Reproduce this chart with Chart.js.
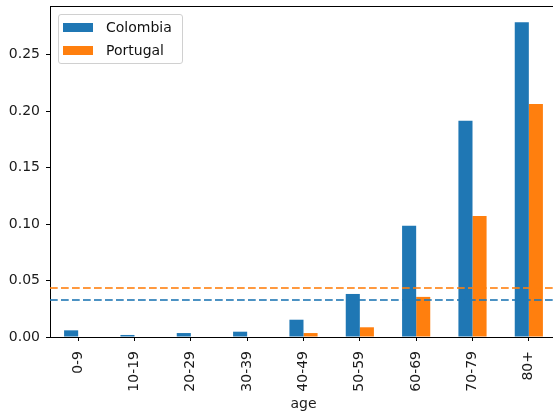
<!DOCTYPE html>
<html>
<head>
<meta charset="utf-8">
<script src="https://cdn.jsdelivr.net/npm/chart.js@4/dist/chart.umd.min.js"></script>
<style>
  html, body { margin: 0; padding: 0; background: #fff; overflow: hidden; }
  #wrap { position: relative; width: 553px; height: 414px; overflow: hidden; }
  #c { position: absolute; left: 0; top: 0; }
  .leg-box { position: absolute; left: 58px; top: 14px; width: 125px; height: 50px; box-sizing: border-box;
             border: 1px solid #d0d0d0; border-radius: 3px; background: rgba(255,255,255,0.8); }
  .leg-item { position: absolute; left: 63px; height: 20px; font: 14px "DejaVu Sans"; color: #111; }
  .leg-item .sw { position: absolute; left: 0; top: 6px; width: 30px; height: 9px; }
  .leg-item .lb { position: absolute; left: 43px; top: 1px; white-space: nowrap; line-height: 18px; }
</style>
</head>
<body>
<div id="wrap">
  <canvas id="c" width="560" height="414"></canvas>
  <div class="leg-box"></div>
  <div id="legend"></div>
</div>
<script>
// ---- data ----
const ages = ["0-9", "10-19", "20-29", "30-39", "40-49", "50-59", "60-69", "70-79", "80+"];
const colombia = [0.0059, 0.0018, 0.0035, 0.0047, 0.0153, 0.0381, 0.0984, 0.1915, 0.2786];
const portugal = [0, 0, 0, 0, 0.0035, 0.0086, 0.0355, 0.1070, 0.2063];
const meanColombia = 0.0328;
const meanPortugal = 0.0434;
const yTicks = [0, 0.05, 0.10, 0.15, 0.20, 0.25];
const yMax = 0.293;

const BLUE = "#1f77b4", ORANGE = "#ff7f0e";
const series = [
  { label: "Colombia", data: colombia, color: BLUE, mean: meanColombia },
  { label: "Portugal", data: portugal, color: ORANGE, mean: meanPortugal },
];

Chart.defaults.font.family = '"DejaVu Sans", sans-serif';
Chart.defaults.font.size = 14;
Chart.defaults.color = "#1a1a1a";

// legend (html overlay, matplotlib style upper-left)
document.getElementById("legend").innerHTML = series.map((s, i) =>
  `<div class="leg-item" style="top:${17 + i * 23}px"><span class="sw" style="background:${s.color}"></span><span class="lb">${s.label}</span></div>`).join("");

// spines top/right + dashed mean lines
const extras = {
  id: "extras",
  afterDatasetsDraw(chart) {
    const { ctx, chartArea: a, scales } = chart;
    ctx.save();
    series.forEach(s => {
      const y = scales.y.getPixelForValue(s.mean);
      ctx.strokeStyle = s.color;
      ctx.globalAlpha = 0.8;
      ctx.lineWidth = 2;
      ctx.setLineDash([7.7, 3.3]);
      ctx.beginPath(); ctx.moveTo(a.left, y); ctx.lineTo(a.right, y); ctx.stroke();
    });
    ctx.restore();
    ctx.save();
    ctx.strokeStyle = "#000"; ctx.lineWidth = 1;
    ctx.beginPath();
    ctx.moveTo(a.left, a.top + 0.5); ctx.lineTo(a.right, a.top + 0.5);
    ctx.moveTo(a.right - 0.5, a.top); ctx.lineTo(a.right - 0.5, a.bottom);
    ctx.stroke();
    ctx.restore();
  }
};

new Chart(document.getElementById("c"), {
  type: "bar",
  data: {
    labels: ages,
    datasets: series.map(s => ({
      label: s.label, data: s.data, backgroundColor: s.color,
      categoryPercentage: 0.5, barPercentage: 1.0, borderWidth: 0,
    })),
  },
  options: {
    responsive: false, animation: false, devicePixelRatio: 1,
    layout: { padding: { top: 6, right: 3, left: 0, bottom: 0 } },
    plugins: { legend: { display: false }, tooltip: { enabled: false } },
    scales: {
      x: {
        offset: true,
        grid: { offset: false, drawOnChartArea: false, drawTicks: true, tickLength: 4, tickColor: "#000" },
        border: { color: "#000", width: 1 },
        ticks: { minRotation: 90, maxRotation: 90, autoSkip: false, padding: 10, color: "#1a1a1a" },
        title: { display: true, text: "age", color: "#1a1a1a", font: { size: 14 }, padding: { top: 0, bottom: 1 } },
        afterFit(scale) { scale.height = 77; scale.paddingLeft = 0; scale.paddingRight = 0; },
      },
      y: {
        min: 0, max: yMax,
        grid: { drawOnChartArea: false, drawTicks: true, tickLength: 4, tickColor: "#000" },
        border: { color: "#000", width: 1 },
        ticks: { padding: 6, color: "#1a1a1a", callback: v => v.toFixed(2) },
        afterBuildTicks(scale) { scale.ticks = yTicks.map(v => ({ value: v })); },
        afterFit(scale) { scale.width = 50; scale.paddingTop = 0; scale.paddingBottom = 0; },
      },
    },
  },
  plugins: [extras],
});
</script>
</body>
</html>
